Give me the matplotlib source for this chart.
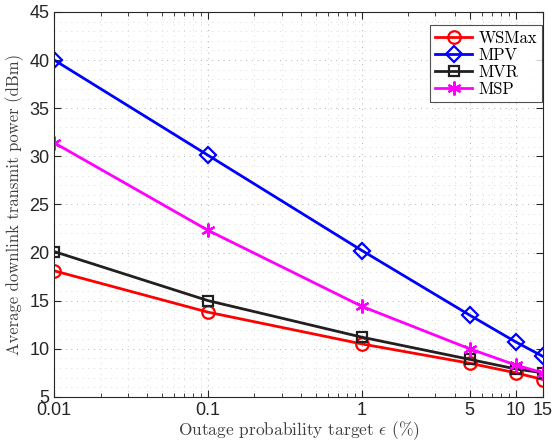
import numpy as np
import matplotlib
matplotlib.use('Agg')
import matplotlib.pyplot as plt
from matplotlib.ticker import FixedLocator, MultipleLocator, NullFormatter

plt.rcParams['mathtext.fontset'] = 'cm'

eps = [0.01, 0.1, 1, 5, 10, 15]
xtick_labels = ['0.01', '0.1', '1', '5', '10', '15']

wsmax = [18.1, 13.8, 10.5, 8.5, 7.5, 6.8]
mpv = [40.0, 30.1, 20.2, 13.5, 10.7, 9.2]
mvr = [20.1, 15.0, 11.2, 8.9, 7.9, 7.5]
msp = [31.4, 22.3, 14.4, 10.0, 8.3, 7.5]

fig = plt.figure(figsize=(5.53, 4.41), dpi=100)
ax = fig.add_axes([0.098, 0.1, 0.884, 0.873])

ax.plot(eps, wsmax, color='r', lw=2, marker='o', ms=9, mfc='none', mew=1.6, label='WSMax')
ax.plot(eps, mpv, color='b', lw=2, marker='D', ms=8, mfc='none', mew=1.6, label='MPV')
ax.plot(eps, mvr, color='#231f20', lw=2, marker='s', ms=7, mfc='none', mew=1.6, label='MVR')
ax.plot(eps, msp, color='#ff00ff', lw=2, marker=(6, 2, 0), ms=10, mew=1.6, label='MSP')

ax.set_xscale('log')
ax.set_xlim(0.01, 15)
ax.set_ylim(5, 45)
ax.xaxis.set_major_locator(FixedLocator(eps))
ax.set_xticklabels(xtick_labels)
ax.xaxis.set_minor_formatter(NullFormatter())
ax.yaxis.set_major_locator(MultipleLocator(5))
ax.yaxis.set_minor_locator(MultipleLocator(1))

for lab in ax.get_xticklabels() + ax.get_yticklabels():
    lab.set_fontfamily('Liberation Sans')
    lab.set_fontsize(13)
    lab.set_color('#262626')

ax.tick_params(which='both', direction='in', top=True, right=True, color='#262626')
ax.tick_params(which='major', length=5)
ax.tick_params(axis='x', which='minor', length=3)
ax.tick_params(axis='y', which='minor', length=0)
ax.tick_params(axis='x', pad=4)

ax.grid(True, which='major', color='#a0a0a0', lw=0.7, dashes=(0.8, 5))
ax.grid(True, which='minor', color='#d0d0d0', lw=0.7, dashes=(0.8, 5))
for s in ax.spines.values():
    s.set_color('#262626')
    s.set_linewidth(0.8)

ax.set_xlabel(r'Outage probability target $\epsilon$ (%)', fontfamily='cmr10', fontsize=12.5, color='#404040', labelpad=0)
ax.set_ylabel('Average downlink transmit power (dBm)', fontfamily='cmr10', fontsize=12, color='#404040', labelpad=4)

leg = ax.legend(loc='upper right', prop={'family': 'cmr10', 'size': 12}, fancybox=False,
                handlelength=2.2, borderpad=0.3, labelspacing=0.1, handletextpad=0.4,
                borderaxespad=0, bbox_to_anchor=(0.998, 0.965))
leg.get_frame().set_edgecolor('#262626')
leg.get_frame().set_linewidth(0.8)

fig.savefig('out.png', dpi=100)
